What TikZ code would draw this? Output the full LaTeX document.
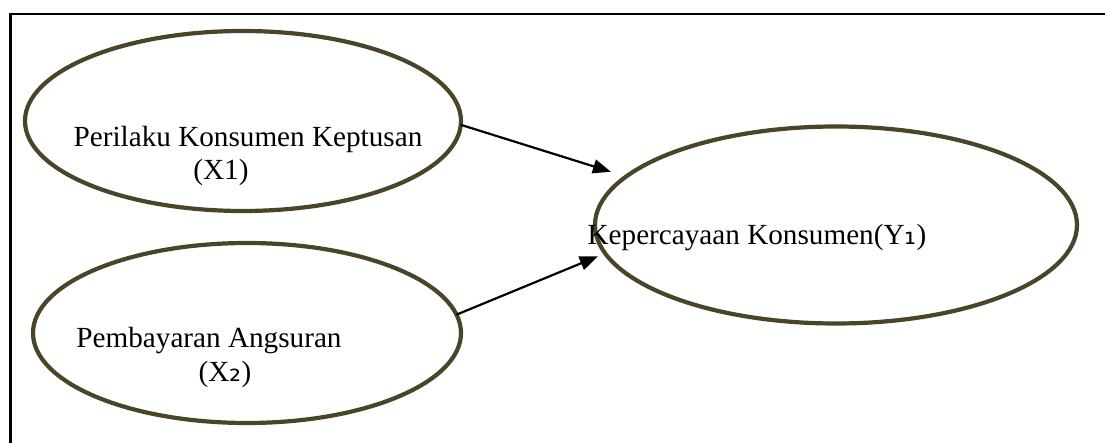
\documentclass[tikz,border=0pt]{standalone}
\usepackage{fontspec}
\setmainfont{Liberation Serif}
\newfontfamily\subf{DejaVu Sans}
\usetikzlibrary{arrows.meta,shapes.geometric}
\definecolor{olivedark}{RGB}{74,68,42}
\begin{document}
\begin{tikzpicture}[x=0.5pt,y=-0.5pt,
  varell/.style={draw=olivedark,line width=2.1pt,ellipse,inner sep=0pt,outer sep=0pt},
  lbl/.style={inner sep=0pt,anchor=base,font=\fontsize{14.6}{17}\selectfont},
  sub/.style={},
  conn/.style={line width=1.1pt,-{Triangle[length=9pt,width=7pt]}}]
\useasboundingbox (0,0) rectangle (1105,443);
\draw[line width=1.25pt] (10.7,450) -- (10.7,13.8) -- (1110,13.8);
\node[varell,minimum width=218pt,minimum height=90pt] (x1) at (243,121) {};
\node[varell,minimum width=214pt,minimum height=90pt] (x2) at (247,333) {};
\node[varell,minimum width=241pt,minimum height=98.5pt] (y) at (836,225) {};
\node[lbl] (t1a) at (248,147) {Perilaku Konsumen Keptusan};
\node[lbl] (t1b) at (221,180) {(X1)};
\node[lbl] (t2a) at (209,348) {Pembayaran Angsuran};
\node[lbl] (t2b) at (225,382) {(X{\subf\fontsize{15}{17}\selectfont ₂})};
\node[lbl] (ty) at (757,245) {Kepercayaan Konsumen(Y{\subf\fontsize{15}{17}\selectfont ₁})};
\draw[conn,shorten >=8pt] (x1.-1) -- (y.167.6);
\draw[conn,shorten >=4pt] (x2.5.7) -- (y.187.2);
\end{tikzpicture}
\end{document}
